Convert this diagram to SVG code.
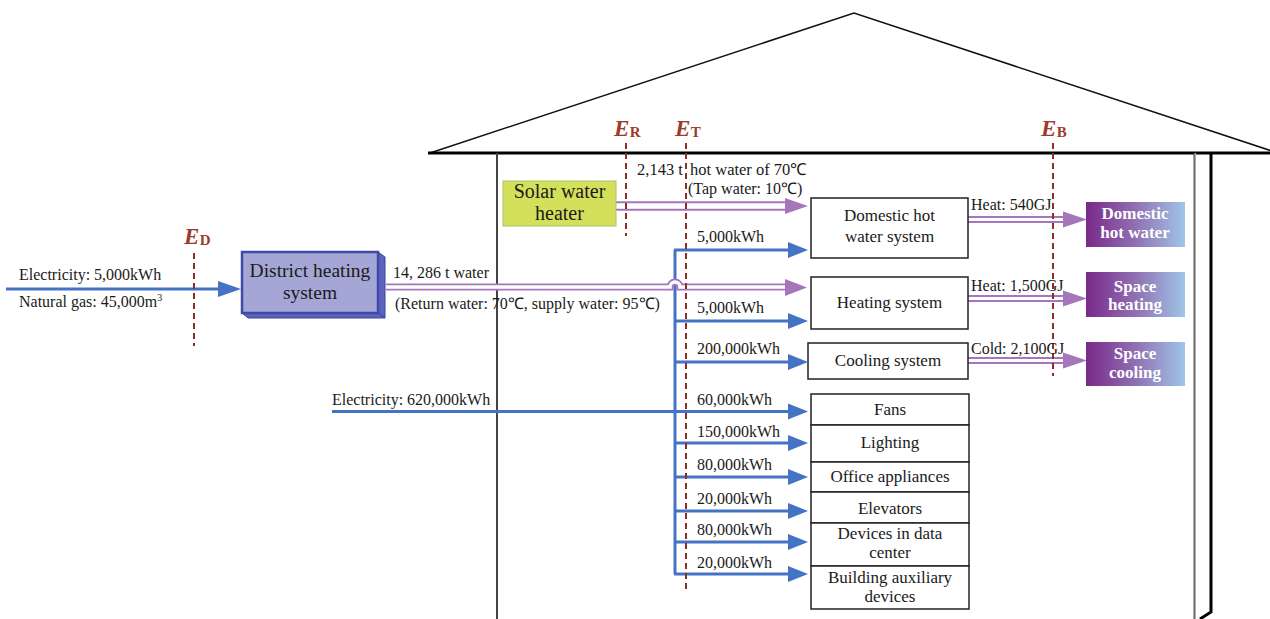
<svg xmlns="http://www.w3.org/2000/svg" width="1270" height="619" viewBox="0 0 1270 619">
<defs>
<linearGradient id="grad" x1="0" y1="0" x2="1" y2="0">
<stop offset="0" stop-color="#7A288A"/>
<stop offset="0.5" stop-color="#9070B2"/>
<stop offset="1" stop-color="#9FC6E8"/>
</linearGradient>
<style>
text{font-family:"Liberation Serif","Times New Roman",serif;fill:#1a1a1a}
.lb{font-size:16px}
.bx{font-size:17px;text-anchor:middle}
.box{fill:#fff;stroke:#222;stroke-width:1.5}
.blue{stroke:#4472C4;stroke-width:3;fill:none}
.bh{fill:#4472C4}
.po{stroke:#A676BA;fill:none}
.pi{stroke:#fff;fill:none}
.ph{fill:#A676BA}
.dash{stroke:#8E2E2A;stroke-width:2;stroke-dasharray:6,4;fill:none}
.E{font-size:23px;font-weight:bold;font-style:italic;fill:#9E3A2A}
.Es{font-size:15px;font-weight:bold;font-style:normal;fill:#9E3A2A}
.gb{fill:url(#grad)}
.gt{font-size:17px;font-weight:bold;fill:#fff;text-anchor:middle}
</style>
</defs>
<rect width="1270" height="619" fill="#fff"/>
<g id="house">
<polyline points="430,153 854,13 1278,153" fill="none" stroke="#111" stroke-width="1.5"/>
<line x1="428" y1="153" x2="1270" y2="153" stroke="#000" stroke-width="3"/>
<line x1="497" y1="153" x2="497" y2="619" stroke="#444" stroke-width="2"/>
<line x1="1195" y1="153" x2="1195" y2="619" stroke="#aaa" stroke-width="2"/>
<line x1="1194" y1="153" x2="1194" y2="619" stroke="#222" stroke-width="0.8"/>
<polyline points="1211,153 1211,612 1200,619" fill="none" stroke="#000" stroke-width="3"/>
</g>
<g id="connectors">
<line class="blue" x1="6" y1="289" x2="220" y2="289"/>
<polygon class="bh" points="218,281 241,289 218,297"/>
<line class="blue" x1="332" y1="411.5" x2="790" y2="411.5"/>
<line class="blue" x1="675" y1="250" x2="675" y2="574"/>
<line class="blue" x1="674" y1="250" x2="790" y2="250"/>
<line class="blue" x1="674" y1="321" x2="790" y2="321"/>
<line class="blue" x1="674" y1="362" x2="790" y2="362"/>
<line class="blue" x1="674" y1="443" x2="790" y2="443"/>
<line class="blue" x1="674" y1="477" x2="790" y2="477"/>
<line class="blue" x1="674" y1="511" x2="790" y2="511"/>
<line class="blue" x1="674" y1="542" x2="790" y2="542"/>
<line class="blue" x1="674" y1="574" x2="790" y2="574"/>
<polygon class="bh" points="788,242 808,250 788,258"/>
<polygon class="bh" points="788,313 808,321 788,329"/>
<polygon class="bh" points="788,354 808,362 788,370"/>
<polygon class="bh" points="788,403.5 808,411.5 788,419.5"/>
<polygon class="bh" points="788,435 808,443 788,451"/>
<polygon class="bh" points="788,469 808,477 788,485"/>
<polygon class="bh" points="788,503 808,511 788,519"/>
<polygon class="bh" points="788,534 808,542 788,550"/>
<polygon class="bh" points="788,566 808,574 788,582"/>
<line class="po" stroke-width="9.5" x1="616" y1="206" x2="788" y2="206"/>
<line class="pi" stroke-width="5.5" x1="616" y1="206" x2="790" y2="206"/>
<polygon class="ph" points="785,198 808,206 785,214"/>
<path class="po" stroke-width="7" d="M386,287 L670,287 A5,5 0 0 1 680,287 L788,287"/>
<path class="pi" stroke-width="3.5" d="M386,287 L670,287 A5,5 0 0 1 680,287 L790,287"/>
<polygon class="ph" points="785,279 807,287.5 785,296"/>
<line class="po" stroke-width="7" x1="968" y1="219.5" x2="1066" y2="219.5"/>
<line class="pi" stroke-width="3" x1="968" y1="219.5" x2="1066" y2="219.5"/>
<polygon class="ph" points="1063,211.5 1087,219.5 1063,227.5"/>
<line class="po" stroke-width="7" x1="968" y1="298.5" x2="1066" y2="298.5"/>
<line class="pi" stroke-width="3" x1="968" y1="298.5" x2="1066" y2="298.5"/>
<polygon class="ph" points="1063,290.5 1087,298.5 1063,306.5"/>
<line class="po" stroke-width="7" x1="968" y1="360.5" x2="1066" y2="360.5"/>
<line class="pi" stroke-width="3" x1="968" y1="360.5" x2="1066" y2="360.5"/>
<polygon class="ph" points="1063,352.5 1087,360.5 1063,368.5"/>
</g>
<g id="district-heating">
<polygon points="378,252 385,257 385,318 378,313" fill="#5D63BC" stroke="#3C44A0" stroke-width="1"/>
<polygon points="242,313 378,313 385,318 248,318" fill="#5D63BC" stroke="#3C44A0" stroke-width="1"/>
<rect x="242" y="252" width="136" height="61" fill="#A4A6D6" stroke="#3F49A6" stroke-width="2.5"/>
<text class="bx" style="font-size:19.5px" x="310" y="277">District heating</text>
<text class="bx" style="font-size:19.5px" x="310" y="299">system</text>
</g>
<g id="solar-water-heater">
<rect x="503" y="181" width="113" height="45" fill="#D4E05C" stroke="#A9C46A" stroke-width="1"/>
<text class="bx" style="font-size:20px" x="559.5" y="198">Solar water</text>
<text class="bx" style="font-size:20px" x="559.5" y="220">heater</text>
</g>
<g id="dhw-system"><rect class="box" x="811" y="198" width="157" height="60"/><text class="bx" x="889.5" y="221">Domestic hot</text><text class="bx" x="889.5" y="242">water system</text></g>
<g id="heating-system"><rect class="box" x="811" y="277" width="157" height="52"/><text class="bx" x="889.5" y="308">Heating system</text></g>
<g id="cooling-system"><rect class="box" x="808" y="343" width="160" height="36"/><text class="bx" x="888" y="366">Cooling system</text></g>
<g id="fans"><rect class="box" x="811" y="394" width="158" height="31"/><text class="bx" x="890" y="415">Fans</text></g>
<g id="lighting"><rect class="box" x="811" y="425" width="158" height="37"/><text class="bx" x="890" y="448">Lighting</text></g>
<g id="office"><rect class="box" x="811" y="462" width="158" height="30"/><text class="bx" x="890" y="482">Office appliances</text></g>
<g id="elevators"><rect class="box" x="811" y="492" width="158" height="31"/><text class="bx" x="890" y="514">Elevators</text></g>
<g id="data-center"><rect class="box" x="811" y="523" width="158" height="43"/><text class="bx" x="890" y="539">Devices in data</text><text class="bx" x="890" y="558">center</text></g>
<g id="aux"><rect class="box" x="811" y="566" width="158" height="43"/><text class="bx" x="890" y="583">Building auxiliary</text><text class="bx" x="890" y="602">devices</text></g>
<g id="out-dhw"><rect class="gb" x="1086" y="202" width="99" height="45"/><text class="gt" x="1135" y="219">Domestic</text><text class="gt" x="1135" y="238">hot water</text></g>
<g id="out-heating"><rect class="gb" x="1086" y="272" width="99" height="45"/><text class="gt" x="1135" y="292">Space</text><text class="gt" x="1135" y="310">heating</text></g>
<g id="out-cooling"><rect class="gb" x="1086" y="342" width="99" height="44"/><text class="gt" x="1135" y="359">Space</text><text class="gt" x="1135" y="378">cooling</text></g>
<g id="boundaries">
<line class="dash" x1="194" y1="253" x2="194" y2="346"/>
<line class="dash" x1="626" y1="143" x2="626" y2="236"/>
<line class="dash" x1="686" y1="143" x2="686" y2="589"/>
<line class="dash" x1="1053" y1="143" x2="1053" y2="376"/>
<text class="E" x="184" y="244">E<tspan class="Es" dx="0.5" dy="1">D</tspan></text>
<text class="E" x="614" y="136">E<tspan class="Es" dx="0.5" dy="1">R</tspan></text>
<text class="E" x="675" y="136">E<tspan class="Es" dx="0.5" dy="1">T</tspan></text>
<text class="E" x="1041" y="136">E<tspan class="Es" dx="0.5" dy="1">B</tspan></text>
</g>
<g id="labels">
<text class="lb" x="19" y="280">Electricity: 5,000kWh</text>
<text class="lb" x="19" y="307">Natural gas: 45,000m<tspan style="font-size:10px" dy="-6">3</tspan></text>
<text class="lb" x="393" y="278">14, 286 t water</text>
<text class="lb" x="395" y="309">(Return water: 70℃, supply water: 95℃)</text>
<text class="lb" style="font-size:16.5px" x="637" y="175">2,143 t<tspan x="690">hot water of 70℃</tspan></text>
<text class="lb" x="688" y="194">(Tap water: 10℃)</text>
<text class="lb" x="332" y="405">Electricity: 620,000kWh</text>
<text class="lb" x="697" y="242">5,000kWh</text>
<text class="lb" x="697" y="313">5,000kWh</text>
<text class="lb" x="697" y="354">200,000kWh</text>
<text class="lb" x="697" y="405">60,000kWh</text>
<text class="lb" x="697" y="437">150,000kWh</text>
<text class="lb" x="697" y="470">80,000kWh</text>
<text class="lb" x="697" y="504">20,000kWh</text>
<text class="lb" x="697" y="535">80,000kWh</text>
<text class="lb" x="697" y="568">20,000kWh</text>
<text class="lb" x="971" y="210">Heat: 540GJ</text>
<text class="lb" x="971" y="291">Heat: 1,500GJ</text>
<text class="lb" x="971" y="354">Cold: 2,100GJ</text>
</g>
</svg>
